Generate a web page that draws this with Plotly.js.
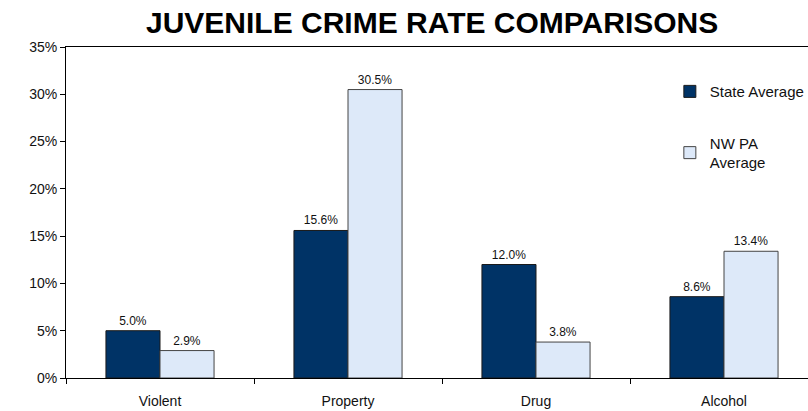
<!DOCTYPE html>
<html><head><meta charset="utf-8">
<script src="https://cdn.plot.ly/plotly-3.0.1.min.js"></script>
<style>html,body{margin:0;padding:0;overflow:hidden;background:#fff;}#chart{width:820px;height:411px;}</style>
</head><body><div id="chart"></div>
<script>
const categories = ["Violent", "Property", "Drug", "Alcohol"];
const stateAverage = [0.050, 0.156, 0.120, 0.086];
const nwpaAverage = [0.029, 0.305, 0.038, 0.134];
const seriesNames = ["State Average", "NW PA<br>Average"];
const yTickVals = [0, 0.05, 0.10, 0.15, 0.20, 0.25, 0.30, 0.35];
const yTickText = ["0%", "5%", "10%", "15%", "20%", "25%", "30%", "35%"];

const fmt = v => (v * 100).toFixed(1) + "%";
const traces = [
  {type: "bar", x: categories, y: stateAverage, name: seriesNames[0], legendgroup: "a",
   marker: {color: "#003366", line: {color: "#1a1a1a", width: 1}},
   text: stateAverage.map(fmt), textposition: "outside", cliponaxis: false,
   textfont: {family: "Arial, sans-serif", size: 12, color: "#111"}},
  {type: "bar", x: categories, y: nwpaAverage, name: seriesNames[1], legendgroup: "b",
   marker: {color: "#dde9f9", line: {color: "#444", width: 1}},
   text: nwpaAverage.map(fmt), textposition: "outside", cliponaxis: false,
   textfont: {family: "Arial, sans-serif", size: 12, color: "#111"}}
];
const layout = {
  width: 820, height: 411,
  margin: {l: 66, r: 2, t: 47, b: 33},
  paper_bgcolor: "#fff", plot_bgcolor: "#fff",
  font: {family: "Arial, Liberation Sans, sans-serif", size: 13, color: "#111"},
  title: {text: "<b>JUVENILE CRIME RATE COMPARISONS</b>", x: 0.527, xanchor: "center", y: 0.945, yanchor: "middle",
          font: {family: "Arial, sans-serif", size: 30, color: "#000"}},
  barmode: "group", bargap: 0.425, bargroupgap: 0,
  xaxis: {showline: true, linecolor: "#000", linewidth: 1, mirror: true, ticks: "outside", ticklen: 5,
          tickcolor: "#000", tickson: "boundaries", showgrid: false, tickfont: {size: 14}, ticklabelstandoff: 10},
  yaxis: {range: [0, 0.35], tickvals: yTickVals, ticktext: yTickText, showline: true, linecolor: "#000",
          linewidth: 1, mirror: true, ticks: "outside", ticklen: 5, tickcolor: "#000", showgrid: false,
          zeroline: false, tickfont: {size: 14}},
  legend: {x: 0.803, y: 0.915, xanchor: "left", yanchor: "top", traceorder: "grouped", tracegroupgap: 29,
           itemwidth: 30, font: {size: 15}, bgcolor: "rgba(0,0,0,0)"},
  showlegend: true
};
Plotly.newPlot("chart", traces, layout, {displayModeBar: false, staticPlot: true});
</script></body></html>
